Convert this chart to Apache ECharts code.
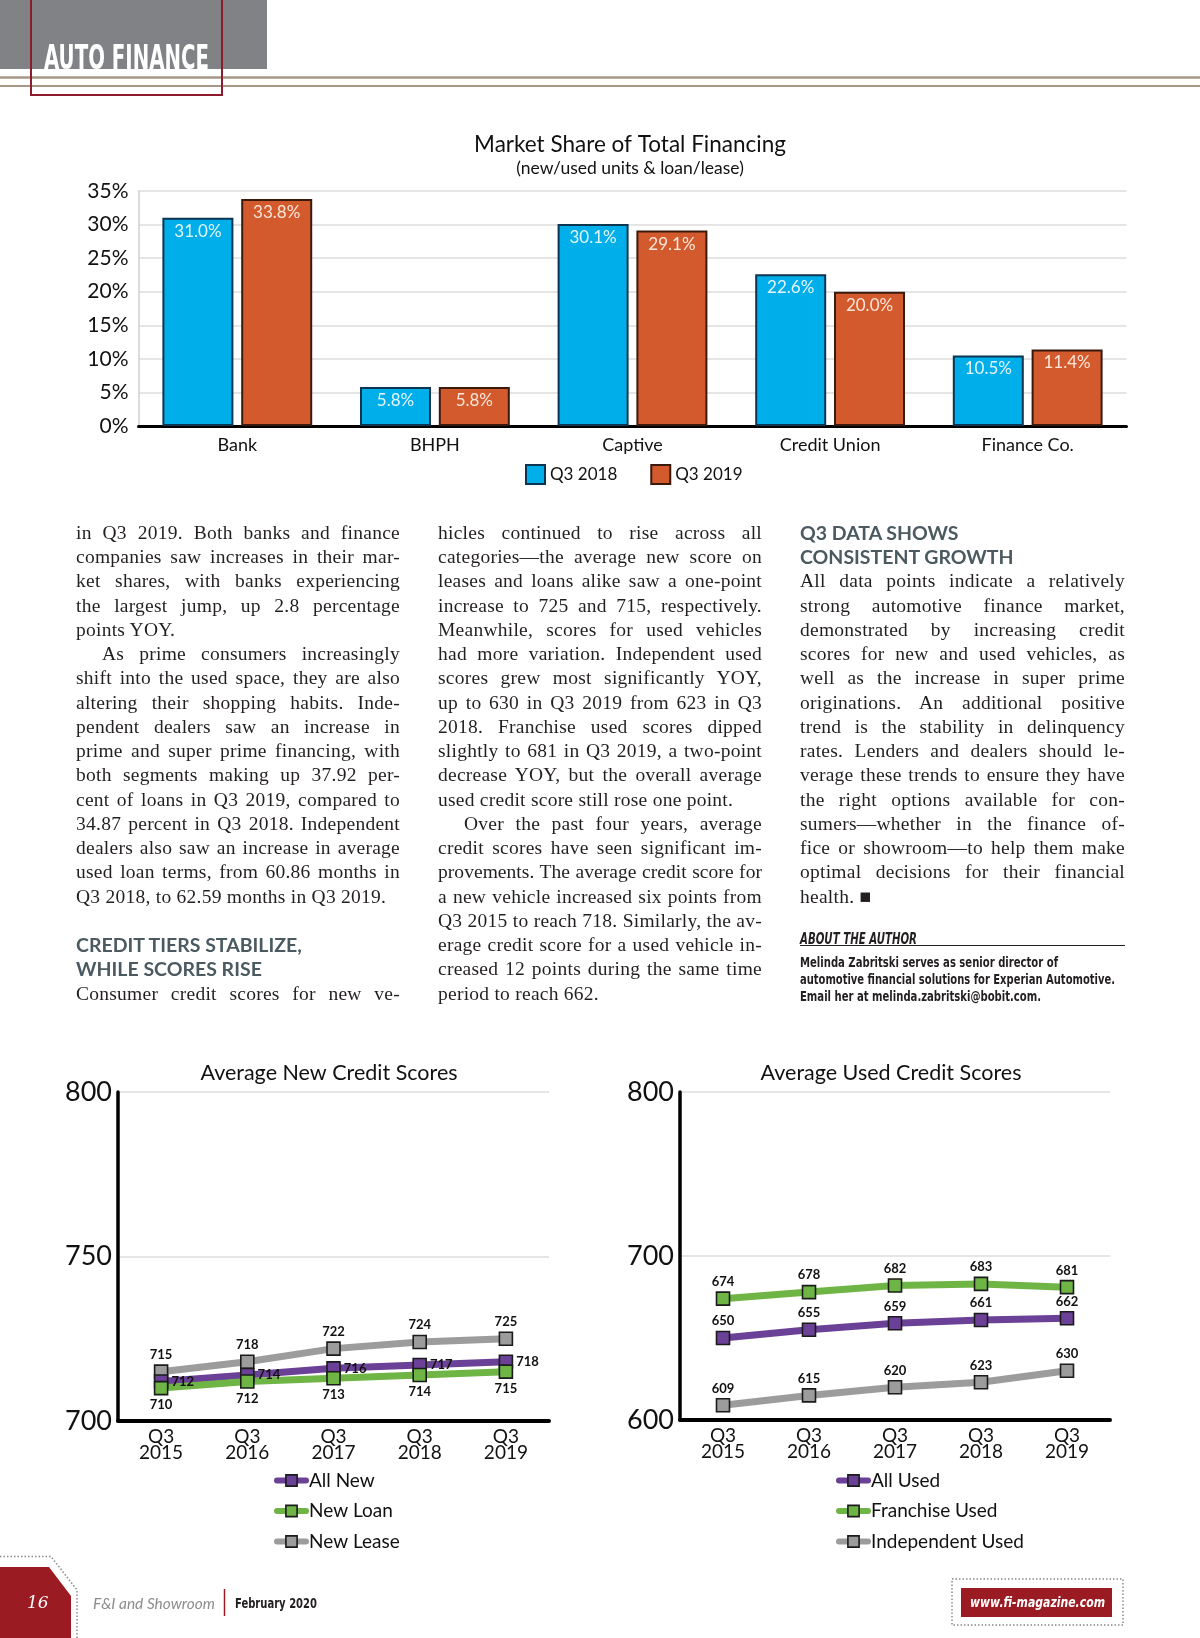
<!DOCTYPE html>
<html>
<head>
<meta charset="utf-8">
<script src="https://cdn.jsdelivr.net/npm/echarts@6/dist/echarts.min.js"></script>
<style>
  html, body { margin:0; padding:0; background:#fff; }
  #page { position:relative; width:1200px; height:1638px; overflow:hidden; background:#fff; }
  #chart { position:absolute; left:0; top:0; width:1200px; height:1638px; }
  .ov { position:absolute; pointer-events:none; }
  .col { position:absolute; top:520.9px; font-family:"Liberation Serif","DejaVu Serif",serif; font-size:19.5px; color:#231f20; }
  .ln { height:24.26px; line-height:24.26px; white-space:nowrap; overflow:visible; letter-spacing:0.25px; }
  .j { text-align:justify; text-align-last:justify; }
  .e { text-align:left; }
  .i { text-indent:26px; }
  .h { font-family:"Lato","Open Sans",sans-serif; font-weight:700; color:#4b5a61; font-size:19.5px; letter-spacing:0; }
  .fit { display:inline-block; white-space:nowrap; transform-origin:0 50%; }
</style>
</head>
<body>
<div id="page">
  <div id="chart"></div>

  <!-- header -->
  <svg class="ov" style="left:0;top:0" width="1200" height="110">
    <rect x="0" y="0" width="267" height="69" fill="#808285"/>
    <line x1="0" y1="77.5" x2="1200" y2="77.5" stroke="#a59886" stroke-width="2.5"/>
    <line x1="0" y1="86" x2="1200" y2="86" stroke="#a59886" stroke-width="2"/>
    <rect x="31" y="-3" width="191" height="98" fill="none" stroke="#8e1b2c" stroke-width="2"/>
  </svg>
  <div class="ov" style="left:44px;top:40px;height:34px;line-height:34px;">
    <span class="fit" data-w="165" style="font-family:'DejaVu Sans Condensed','DejaVu Sans',sans-serif;font-weight:700;font-size:34px;color:#fff;">AUTO FINANCE</span>
  </div>

  <!-- article columns -->
  <div class="col" id="col1" style="left:76px;width:324px;"></div>
  <div class="col" id="col2" style="left:438px;width:324px;"></div>
  <div class="col" id="col3" style="left:800px;width:325px;"></div>

  <!-- about the author -->
  <div class="ov" style="left:800px;top:930px;height:18px;line-height:18px;">
    <span class="fit" data-w="117" style="font-family:'Liberation Sans Narrow','DejaVu Sans Condensed',sans-serif;font-weight:700;font-style:italic;font-size:15px;color:#231f20;">ABOUT THE AUTHOR</span>
  </div>
  <div class="ov" style="left:800px;top:945px;width:325px;height:0;border-top:1.5px solid #231f20;"></div>
  <div class="ov" id="author" style="left:800px;top:952.5px;width:330px;"></div>

  <!-- footer -->
  <svg class="ov" style="left:0;top:1540px" width="1200" height="98">
    <polyline points="0,16.5 51,16.5 77,50 77,98" fill="none" stroke="#8a8a8a" stroke-width="1.5" stroke-dasharray="1.5,2"/>
    <polygon points="0,27 49,27 71,56 71,98 0,98" fill="#9b1b22"/>
    <line x1="224.5" y1="49" x2="224.5" y2="76" stroke="#9b1b22" stroke-width="1.5"/>
    <rect x="952" y="39" width="171" height="46" fill="none" stroke="#8a8a8a" stroke-width="1.5" stroke-dasharray="1.5,2"/>
    <rect x="961" y="48" width="151" height="29" fill="#9b1b22"/>
  </svg>
  <div class="ov" style="left:27px;top:1590px;height:24px;line-height:24px;font-family:'DejaVu Serif',serif;font-style:italic;font-size:17px;color:#fff;">16</div>
  <div class="ov" style="left:93px;top:1593px;height:20px;line-height:20px;">
    <span class="fit" data-w="122" style="font-family:'Lato',sans-serif;font-style:italic;font-size:15px;color:#8c8c8c;">F&amp;I and Showroom</span>
  </div>
  <div class="ov" style="left:235px;top:1593px;height:20px;line-height:20px;">
    <span class="fit" data-w="82" style="font-family:'Liberation Sans Narrow','DejaVu Sans Condensed',sans-serif;font-weight:700;font-size:14px;color:#231f20;">February 2020</span>
  </div>
  <div class="ov" style="left:970px;top:1592px;height:20px;line-height:20px;">
    <span class="fit" data-w="135" style="font-family:'Liberation Sans Narrow','DejaVu Sans Condensed',sans-serif;font-weight:700;font-style:italic;font-size:14px;color:#fff;">www.fi-magazine.com</span>
  </div>
</div>

<script>
// ---------- chart data ----------
const shareCategories = ['Bank', 'BHPH', 'Captive', 'Credit Union', 'Finance Co.'];
const shareQ3_2018 = [31.0, 5.8, 30.1, 22.6, 10.5];
const shareQ3_2019 = [33.8, 5.8, 29.1, 20.0, 11.4];
const shareTicks = [0, 5, 10, 15, 20, 25, 30, 35];

const yearLabels = ['Q3\n2015', 'Q3\n2016', 'Q3\n2017', 'Q3\n2018', 'Q3\n2019'];

const newAll = [712, 714, 716, 717, 718];
const newLoan = [710, 712, 713, 714, 715];
const newLease = [715, 718, 722, 724, 725];
const newTicks = [700, 750, 800];

const usedAll = [650, 655, 659, 661, 662];
const usedFranchise = [674, 678, 682, 683, 681];
const usedIndependent = [609, 615, 620, 623, 630];
const usedTicks = [600, 700, 800];

// ---------- article text ----------
const col1Lines = [
  ['in Q3 2019. Both banks and finance','j'],
  ['companies saw increases in their mar-','j'],
  ['ket shares, with banks experiencing','j'],
  ['the largest jump, up 2.8 percentage','j'],
  ['points YOY.','e'],
  ['As prime consumers increasingly','j i'],
  ['shift into the used space, they are also','j'],
  ['altering their shopping habits. Inde-','j'],
  ['pendent dealers saw an increase in','j'],
  ['prime and super prime financing, with','j'],
  ['both segments making up 37.92 per-','j'],
  ['cent of loans in Q3 2019, compared to','j'],
  ['34.87 percent in Q3 2018. Independent','j'],
  ['dealers also saw an increase in average','j'],
  ['used loan terms, from 60.86 months in','j'],
  ['Q3 2018, to 62.59 months in Q3 2019.','e'],
  ['\u00a0','e'],
  ['CREDIT TIERS STABILIZE,','h'],
  ['WHILE SCORES RISE','h'],
  ['Consumer credit scores for new ve-','j']
];
const col2Lines = [
  ['hicles continued to rise across all','j'],
  ['categories\u2014the average new score on','j'],
  ['leases and loans alike saw a one-point','j'],
  ['increase to 725 and 715, respectively.','j'],
  ['Meanwhile, scores for used vehicles','j'],
  ['had more variation. Independent used','j'],
  ['scores grew most significantly YOY,','j'],
  ['up to 630 in Q3 2019 from 623 in Q3','j'],
  ['2018. Franchise used scores dipped','j'],
  ['slightly to 681 in Q3 2019, a two-point','j'],
  ['decrease YOY, but the overall average','j'],
  ['used credit score still rose one point.','e'],
  ['Over the past four years, average','j i'],
  ['credit scores have seen significant im-','j'],
  ['provements. The average credit score for','j'],
  ['a new vehicle increased six points from','j'],
  ['Q3 2015 to reach 718. Similarly, the av-','j'],
  ['erage credit score for a used vehicle in-','j'],
  ['creased 12 points during the same time','j'],
  ['period to reach 662.','e']
];
const col3Lines = [
  ['Q3 DATA SHOWS','h'],
  ['CONSISTENT GROWTH','h'],
  ['All data points indicate a relatively','j'],
  ['strong automotive finance market,','j'],
  ['demonstrated by increasing credit','j'],
  ['scores for new and used vehicles, as','j'],
  ['well as the increase in super prime','j'],
  ['originations. An additional positive','j'],
  ['trend is the stability in delinquency','j'],
  ['rates. Lenders and dealers should le-','j'],
  ['verage these trends to ensure they have','j'],
  ['the right options available for con-','j'],
  ['sumers\u2014whether in the finance of-','j'],
  ['fice or showroom\u2014to help them make','j'],
  ['optimal decisions for their financial','j'],
  ['health. \u25A0','e']
];
const authorLines = [
  ['Melinda Zabritski serves as senior director of', 258],
  ['automotive financial solutions for Experian Automotive.', 315],
  ['Email her at melinda.zabritski@bobit.com.', 241]
];

function fillCol(id, lines) {
  const el = document.getElementById(id);
  lines.forEach(([t, cls]) => {
    const d = document.createElement('div');
    d.className = 'ln ' + cls;
    d.textContent = t;
    el.appendChild(d);
  });
  el.querySelectorAll('.ln.j').forEach(d => {
    let ls = 0.25;
    while (d.scrollWidth > d.clientWidth + 0.5 && ls > -1.2) {
      ls -= 0.1;
      d.style.letterSpacing = ls.toFixed(2) + 'px';
    }
  });
}
fillCol('col1', col1Lines);
fillCol('col2', col2Lines);
fillCol('col3', col3Lines);

const authorEl = document.getElementById('author');
authorLines.forEach(([t, w]) => {
  const row = document.createElement('div');
  row.style.cssText = 'height:17px;line-height:17px;';
  const s = document.createElement('span');
  s.className = 'fit';
  s.dataset.w = w;
  s.style.cssText = "font-family:'Liberation Sans Narrow','DejaVu Sans Condensed',sans-serif;font-weight:700;font-size:13.5px;color:#231f20;";
  s.textContent = t;
  row.appendChild(s);
  authorEl.appendChild(row);
});

document.querySelectorAll('.fit').forEach(s => {
  const w = parseFloat(s.dataset.w);
  const cur = s.getBoundingClientRect().width;
  if (cur > 0) s.style.transform = 'scaleX(' + (w / cur).toFixed(4) + ')';
});

// ---------- chart ----------
const FONT = 'Lato, "Open Sans", sans-serif';
const chart = echarts.init(document.getElementById('chart'), null, { renderer: 'canvas' });

const C_BLUE = '#00aeea', C_ORANGE = '#d35a2d';
const C_PURPLE = '#6a4196', C_GREEN = '#6fb545', C_GRAY = '#9c9c9c';

function lineSeries(name, data, color, xi, yi, labelPos) {
  return {
    type: 'line', name: name, data: data,
    xAxisIndex: xi, yAxisIndex: yi,
    symbol: 'rect', symbolSize: 13,
    lineStyle: { color: color, width: 7, cap: 'round', join: 'round' },
    itemStyle: { color: color, borderColor: '#1b1b1b', borderWidth: 1.6 },
    label: { show: true, position: labelPos || 'top', distance: 3, fontFamily: FONT, fontWeight: 'bold', fontSize: 13, color: '#111' },
    emphasis: { disabled: true },
    animation: false, z: 3
  };
}

function yLine(min, max, interval) {
  return {
    type: 'value', min: min, max: max, interval: interval,
    axisLine: { show: true, lineStyle: { color: '#000', width: 3.5 } },
    axisTick: { show: false },
    axisLabel: { fontFamily: FONT, fontSize: 27, color: '#111', margin: 6 },
    splitLine: { show: true, lineStyle: { color: '#dcdcdc', width: 1.5 } }
  };
}
function xLine(grid) {
  return {
    type: 'category', gridIndex: grid, data: yearLabels, boundaryGap: true,
    axisLine: { show: true, lineStyle: { color: '#000', width: 4 } },
    axisTick: { show: false },
    axisLabel: { fontFamily: FONT, fontSize: 19, lineHeight: 16, color: '#111', margin: 8 }
  };
}
function lineLegend(names, left) {
  return {
    data: names, left: left, top: 1471, orient: 'vertical', padding: 0,
    itemWidth: 29, itemHeight: 14, itemGap: 11.5,
    lineStyle: { width: 6, cap: 'round' },
    itemStyle: { borderColor: '#1b1b1b', borderWidth: 1.6 },
    textStyle: { fontFamily: FONT, fontSize: 19, color: '#111', padding: [0, 0, 0, -2] },
    selectedMode: false
  };
}

const option = {
  animation: false,
  textStyle: { fontFamily: FONT },
  title: [
    { text: 'Market Share of Total Financing', left: 625, top: 128, textAlign: 'center',
      textStyle: { fontFamily: FONT, fontSize: 22.5, fontWeight: 'normal', color: '#111' } },
    { text: '(new/used units & loan/lease)', left: 625, top: 154, textAlign: 'center',
      textStyle: { fontFamily: FONT, fontSize: 17.5, fontWeight: 'normal', color: '#111' } },
    { text: 'Average New Credit Scores', left: 324, top: 1057, textAlign: 'center',
      textStyle: { fontFamily: FONT, fontSize: 21.5, fontWeight: 'normal', color: '#111' } },
    { text: 'Average Used Credit Scores', left: 886, top: 1057, textAlign: 'center',
      textStyle: { fontFamily: FONT, fontSize: 21.5, fontWeight: 'normal', color: '#111' } }
  ],
  legend: [
    { data: ['Q3 2018', 'Q3 2019'], left: 525, top: 464, orient: 'horizontal', padding: 0,
      icon: 'rect', itemWidth: 19, itemHeight: 19, itemGap: 33,
      textStyle: { fontFamily: FONT, fontSize: 17, color: '#111' }, selectedMode: false },
    lineLegend(['All New', 'New Loan', 'New Lease'], 274),
    lineLegend(['All Used', 'Franchise Used', 'Independent Used'], 836)
  ],
  grid: [
    { left: 138.5, top: 191, width: 988, height: 235 },
    { left: 118, top: 1092, width: 431, height: 329 },
    { left: 680, top: 1092, width: 430, height: 328 }
  ],
  xAxis: [
    { type: 'category', gridIndex: 0, data: shareCategories,
      axisLine: { show: true, lineStyle: { color: '#000', width: 3 } },
      axisTick: { show: false },
      axisLabel: { fontFamily: FONT, fontSize: 18, color: '#111', margin: 10 } },
    xLine(1), xLine(2)
  ],
  yAxis: [
    { type: 'value', gridIndex: 0, min: shareTicks[0], max: shareTicks[shareTicks.length - 1], interval: 5,
      axisLine: { show: true, lineStyle: { color: '#cfcfcf', width: 1.5 } },
      axisTick: { show: false },
      axisLabel: { fontFamily: FONT, fontSize: 21, color: '#111', margin: 10, formatter: '{value}%' },
      splitLine: { show: true, lineStyle: { color: '#dcdcdc', width: 1.5 } } },
    Object.assign(yLine(newTicks[0], newTicks[newTicks.length - 1], 50), { gridIndex: 1 }),
    Object.assign(yLine(usedTicks[0], usedTicks[usedTicks.length - 1], 100), { gridIndex: 2 })
  ],
  series: [
    { type: 'bar', name: 'Q3 2018', data: shareQ3_2018, xAxisIndex: 0, yAxisIndex: 0,
      barWidth: 71, barGap: '11%',
      itemStyle: { color: C_BLUE, borderColor: '#0b3550', borderWidth: 2 },
      label: { show: true, position: 'insideTop', distance: 5, fontFamily: FONT, fontSize: 17, color: '#e4f6fd',
               formatter: p => p.value.toFixed(1) + '%' },
      emphasis: { disabled: true } },
    { type: 'bar', name: 'Q3 2019', data: shareQ3_2019, xAxisIndex: 0, yAxisIndex: 0,
      barWidth: 71, barGap: '11%',
      itemStyle: { color: C_ORANGE, borderColor: '#3b1a0e', borderWidth: 2 },
      label: { show: true, position: 'insideTop', distance: 5, fontFamily: FONT, fontSize: 17, color: '#fde6da',
               formatter: p => p.value.toFixed(1) + '%' },
      emphasis: { disabled: true } },
    lineSeries('New Lease', newLease, C_GRAY, 1, 1, 'top'),
    lineSeries('All New', newAll, C_PURPLE, 1, 1, 'right'),
    lineSeries('New Loan', newLoan, C_GREEN, 1, 1, 'bottom'),
    lineSeries('Independent Used', usedIndependent, C_GRAY, 2, 2, 'top'),
    lineSeries('All Used', usedAll, C_PURPLE, 2, 2, 'top'),
    lineSeries('Franchise Used', usedFranchise, C_GREEN, 2, 2, 'top')
  ]
};
chart.setOption(option);
</script>
</body>
</html>
